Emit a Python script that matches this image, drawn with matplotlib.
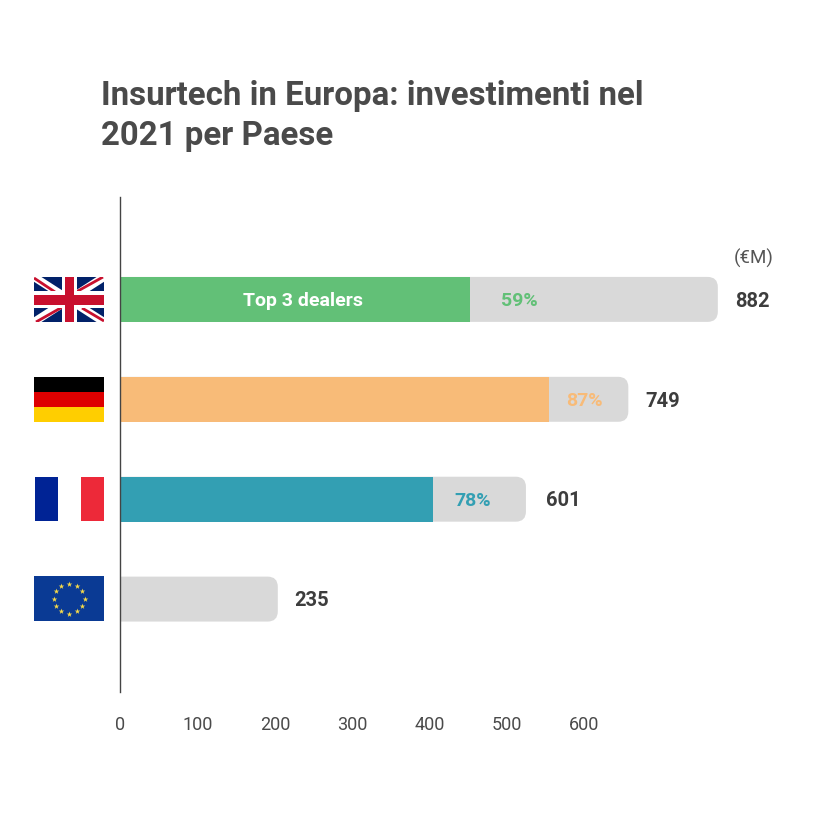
import matplotlib
matplotlib.use("Agg")
import matplotlib.pyplot as plt
import numpy as np
from matplotlib.patches import FancyBboxPatch, Rectangle

W, H = 824, 823

countries = ["Regno Unito", "Germania", "Francia", "UE"]
total_labels = [882, 749, 601, 235]
bar_lengths = [881, 749, 598, 232]
top3_values = [516, 632, 461, 0]
top3_shares = ["59%", "87%", "78%", ""]
top3_colors = ["#62c077", "#f8bb78", "#339fb3", "#d9d9d9"]
tick_values = [0, 100, 200, 300, 400, 500, 600]

GREY = "#d9d9d9"
DARK = "#3d3d3d"
plt.rcParams["font.family"] = ["Roboto", "DejaVu Sans"]


def add_px_axes(fig, x0, y0, x1, y1):
    """Axes from reference pixel box (y counted from the top)."""
    return fig.add_axes([x0 / W, 1 - y1 / H, (x1 - x0) / W, (y1 - y0) / H])


def flag_axes(fig, y_center):
    ax = add_px_axes(fig, 34, y_center - 22.5, 104, y_center + 22.5)
    ax.set_xlim(0, 70)
    ax.set_ylim(45, 0)
    ax.axis("off")
    return ax


def draw_uk(ax):
    ax.add_patch(Rectangle((0, 0), 70, 45, color="#012169", lw=0, zorder=1))
    ax.plot([0, 70], [0, 45], color="white", lw=5.8, solid_capstyle="butt", zorder=2)
    ax.plot([0, 70], [45, 0], color="white", lw=5.8, solid_capstyle="butt", zorder=2)
    # red diagonals are offset from the white ones, as on the real flag
    for x0, y0, x1, y1 in [(0, 1, 21, 15), (48, 31, 70, 44), (2, 45, 27.5, 30.5), (43, 14.5, 69, 0)]:
        ax.plot([x0, x1], [y0, y1], color="#c8102e", lw=2, solid_capstyle="butt", zorder=3)
    ax.add_patch(Rectangle((27.5, 0), 15, 45, color="white", lw=0, zorder=4))
    ax.add_patch(Rectangle((0, 14), 70, 17, color="white", lw=0, zorder=4))
    ax.add_patch(Rectangle((31, 0), 9, 45, color="#c8102e", lw=0, zorder=5))
    ax.add_patch(Rectangle((0, 18), 70, 9.5, color="#c8102e", lw=0, zorder=5))


def draw_de(ax):
    for i, c in enumerate(["#000000", "#dd0000", "#ffce00"]):
        ax.add_patch(Rectangle((0, i * 15), 70, 15, color=c, lw=0))


def draw_fr(ax):
    ax.add_patch(Rectangle((1, 0), 23, 44, color="#002395", lw=0))
    ax.add_patch(Rectangle((47, 0), 23, 44, color="#ed2939", lw=0))


def draw_eu(ax):
    ax.add_patch(Rectangle((0, 0), 70, 45, color="#0a3a94", lw=0))
    angles = np.deg2rad(np.arange(0, 360, 30))
    ax.scatter(35 + 15.5 * np.cos(angles), 22.5 + 15 * np.sin(angles),
               marker="*", s=18, color="#f5d94a", lw=0)


fig = plt.figure(figsize=(W / 100, H / 100), dpi=100, facecolor="white")

# bars use their own scale (0.678 px per unit), the printed ticks another one
ax = add_px_axes(fig, 120.5, 197, 790, 692)
px_per_unit = 0.678
ax.set_xlim(0, (790 - 120.5) / px_per_unit)
ax.set_ylim(3.93, -1.025)
ax.patch.set_alpha(0)

# horizontal gaps for the labels, data units
share_offsets = [72, 52, 59, 0]
total_offsets = [25, 25, 29, 25]
y_pos = np.arange(len(countries))
text_dy = 0.018
for i, y in enumerate(y_pos):
    length, part = bar_lengths[i], top3_values[i]
    # start left of the axis so only the right corners show rounded
    box = FancyBboxPatch((-40, y - 0.225), length + 40, 0.45,
                         boxstyle="round,pad=0,rounding_size=15",
                         mutation_aspect=0.00678, fc=GREY, ec="none")
    ax.add_patch(box)
    if part:
        ax.barh(y, part, height=0.45, color=top3_colors[i], lw=0)
        ax.text(part + share_offsets[i], y + text_dy, top3_shares[i], color=top3_colors[i],
                fontsize=14, fontweight="bold", ha="center", va="center")
    ax.text(length + total_offsets[i], y + text_dy, str(total_labels[i]), color=DARK,
            fontsize=14.5, fontweight="bold", ha="left", va="center")

ax.text(top3_values[0] / 2 + 10.5, text_dy, "Top 3 dealers", color="white", fontsize=14,
        fontweight="bold", ha="center", va="center")
ax.text(881 + 24, -0.41, "(€M)", color="#555555", fontsize=13.5, ha="left", va="center")

for s in ["top", "right", "bottom"]:
    ax.spines[s].set_visible(False)
ax.spines["left"].set_color("#444444")
ax.spines["left"].set_linewidth(1)
ax.set_yticks([])
ax.set_xticks([])

# printed tick labels, 0.773 px per unit
ax2 = ax.twiny()
ax2.set_xlim(0, (790 - 120.5) / 0.773)
ax2.xaxis.set_ticks_position("bottom")
ax2.set_xticks(tick_values)
ax2.set_xticklabels([str(v) for v in tick_values], color="#4a4a4a", fontsize=13)
ax2.tick_params(axis="x", length=0, pad=17)
for s in ax2.spines.values():
    s.set_visible(False)

fig.text(101 / W, 1 - 96 / H, "Insurtech in Europa: investimenti nel", fontsize=23.75,
         fontweight="bold", color="#4a4a4a", ha="left", va="center")
fig.text(101 / W, 1 - 136 / H, "2021 per Paese", fontsize=23.75,
         fontweight="bold", color="#4a4a4a", ha="left", va="center")

for y_c, draw in zip([299.5, 399.5, 499, 598.5], [draw_uk, draw_de, draw_fr, draw_eu]):
    draw(flag_axes(fig, y_c))

fig.savefig("out.png", dpi=100)
